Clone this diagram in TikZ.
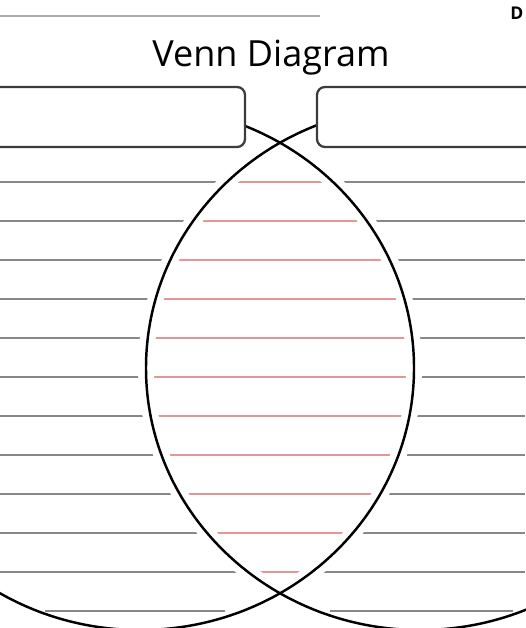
\documentclass[tikz,border=0pt]{standalone}
\usepackage{fontspec}
\setmainfont{Open Sans}
\usepackage{xcolor}
\usetikzlibrary{positioning}

\definecolor{rulegray}{RGB}{135,135,135}
\definecolor{rulered}{RGB}{228,150,150}
\definecolor{boxgray}{RGB}{60,60,60}

\begin{document}
\begin{tikzpicture}[
   x=0.02cm, y=-0.02cm,
   every node/.style={inner sep=0pt},
   rule/.style={rulegray,line width=1.1pt},
   redrule/.style={rulered,line width=1.1pt},
   gap/.style={white,line width=9pt},
   ring/.style={black,line width=1.4pt},
   label box/.style={draw=boxgray,line width=1.3pt,fill=white,rectangle,
                     rounded corners=4.5pt,minimum height=1.2cm},
   title/.style={font=\fontsize{20.5}{24}\selectfont}
]
\useasboundingbox (0,0) rectangle (525,628);

% writing lines
\foreach \yy in {182,221,...,572}
   \draw[rule] (0,\yy) -- (525,\yy);

% the overlap gets red lines
\begin{scope}
   \clip (140,368) ellipse [x radius=274, y radius=262];
   \clip (420,368) ellipse [x radius=274, y radius=262];
   \foreach \yy in {182,221,...,572}
      \draw[redrule] (0,\yy) -- (525,\yy);
\end{scope}

% white gaps round the rings
\draw[gap] (140,368) ellipse [x radius=274, y radius=262];
\draw[gap] (420,368) ellipse [x radius=274, y radius=262];

% last line, below the overlap
\draw[rule] (45,611) -- (225,611);
\draw[rule] (330,611) -- (513,611);

% the two rings
\draw[ring] (140,368) ellipse [x radius=274, y radius=262];
\draw[ring] (420,368) ellipse [x radius=274, y radius=262];

% label boxes
\node[label box,minimum width=5.1cm] (leftbox) at (117.5,117) {};
\node[label box,minimum width=4.36cm] (rightbox) at (426,117) {};

% heading
\node[title] (heading) at (271,58) {Venn Diagram};
\draw[rule,rulegray!70] (0,16) -- (320,16);
\node[anchor=west,font=\bfseries] (datelbl) at (510,13) {D};

\end{tikzpicture}
\end{document}
